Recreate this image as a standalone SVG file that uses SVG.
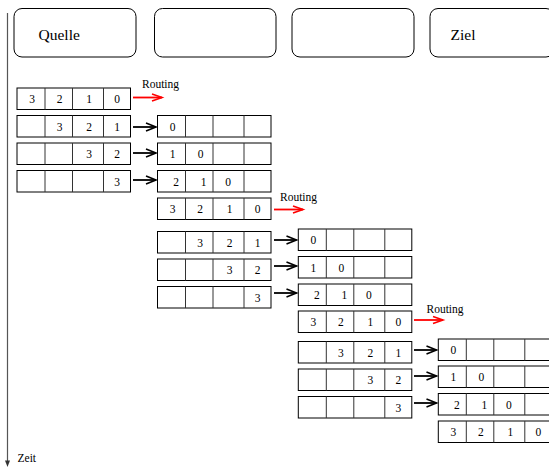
<svg xmlns="http://www.w3.org/2000/svg" xmlns:xlink="http://www.w3.org/1999/xlink" width="549" height="468" viewBox="0 0 549 468">
  <style>
    .node { fill: none; stroke: #000; stroke-width: 1; }
    .cell { fill: #fff; stroke: #000; stroke-width: 1; }
    .div { stroke: #333; stroke-width: 1; }
    text { font-family: 'Liberation Serif', 'Times New Roman', Times, 'DejaVu Serif', serif; fill: #000; }
    .lbl { font-size: 15.5px; }
    .num { font-size: 11.5px; text-anchor: middle; }
    .small { font-size: 11.5px; }
    .fwd { fill: none; stroke: #000; stroke-width: 1.8; marker-end: url(#headBlack); }
    .route { fill: none; stroke: #f00; stroke-width: 1.8; marker-end: url(#headRed); }
    .axis { fill: none; stroke: #555; stroke-width: 1.2; }
  </style>
  <defs>
    <marker id="headBlack" markerUnits="userSpaceOnUse" markerWidth="14" markerHeight="12" refX="11" refY="6" orient="auto">
      <path d="M1,2 L11,6 L1,10" fill="none" stroke="#000" stroke-width="1.6"/>
    </marker>
    <marker id="headRed" markerUnits="userSpaceOnUse" markerWidth="14" markerHeight="12" refX="11" refY="6" orient="auto">
      <path d="M1,2.5 L11,6 L1,9.5" fill="none" stroke="#f00" stroke-width="1.6"/>
    </marker>
    <!-- four-slot packet buffer -->
    <g id="slots">
      <rect class="cell" x="0" y="0" width="113.5" height="21.5"/>
      <line class="div" x1="28" y1="0" x2="28" y2="21.5"/>
      <line class="div" x1="55.5" y1="0" x2="55.5" y2="21.5"/>
      <line class="div" x1="86.5" y1="0" x2="86.5" y2="21.5"/>
    </g>
  </defs>

  <rect width="549" height="468" fill="#fff"/>

  <!-- time axis -->
  <g id="time-axis">
    <line class="axis" x1="7.5" y1="13" x2="7.5" y2="463"/>
    <path d="M5,460.5 L7.5,467 L10,460.5 Z" fill="#333"/>
    <text class="small" x="17.5" y="461.5">Zeit</text>
  </g>

  <!-- stations -->
  <g id="station-quelle">
    <rect class="node" x="14" y="8.5" width="122" height="48.5" rx="8"/>
    <text class="lbl" x="38.5" y="39.5">Quelle</text>
  </g>
  <g id="station-2">
    <rect class="node" x="154.5" y="8.5" width="121.5" height="48.5" rx="8"/>
  </g>
  <g id="station-3">
    <rect class="node" x="292" y="8.5" width="122" height="48.5" rx="8"/>
  </g>
  <g id="station-ziel">
    <rect class="node" x="430" y="8.5" width="124" height="48.5" rx="8"/>
    <text class="lbl" x="450.5" y="39.5">Ziel</text>
  </g>

  <!-- station 1 buffers -->
  <g id="s1-row1" transform="translate(17,88)">
    <use xlink:href="#slots"/>
    <text class="num" x="15" y="15">3</text><text class="num" x="42.5" y="15">2</text><text class="num" x="72" y="15">1</text><text class="num" x="100" y="15">0</text>
  </g>
  <g id="s1-row2" transform="translate(17,115.5)">
    <use xlink:href="#slots"/>
    <text class="num" x="42.5" y="15">3</text><text class="num" x="72" y="15">2</text><text class="num" x="100" y="15">1</text>
  </g>
  <g id="s1-row3" transform="translate(17,143)">
    <use xlink:href="#slots"/>
    <text class="num" x="72" y="15">3</text><text class="num" x="100" y="15">2</text>
  </g>
  <g id="s1-row4" transform="translate(17,170.5)">
    <use xlink:href="#slots"/>
    <text class="num" x="100" y="15">3</text>
  </g>

  <!-- station 2 buffers: received -->
  <g id="s2-in1" transform="translate(157.5,115.5)">
    <use xlink:href="#slots"/>
    <text class="num" x="15" y="15">0</text>
  </g>
  <g id="s2-in2" transform="translate(157.5,143)">
    <use xlink:href="#slots"/>
    <text class="num" x="15" y="15">1</text><text class="num" x="43" y="15">0</text>
  </g>
  <g id="s2-in3" transform="translate(157.5,170.5)">
    <use xlink:href="#slots"/>
    <text class="num" x="18.5" y="15">2</text><text class="num" x="46" y="15">1</text><text class="num" x="70.5" y="15">0</text>
  </g>
  <g id="s2-in4" transform="translate(157.5,198)">
    <use xlink:href="#slots"/>
    <text class="num" x="15" y="15">3</text><text class="num" x="42.5" y="15">2</text><text class="num" x="72" y="15">1</text><text class="num" x="100" y="15">0</text>
  </g>
  <!-- station 2 buffers: forwarding -->
  <g id="s2-out1" transform="translate(157.5,231.5)">
    <use xlink:href="#slots"/>
    <text class="num" x="42.5" y="15">3</text><text class="num" x="72" y="15">2</text><text class="num" x="100" y="15">1</text>
  </g>
  <g id="s2-out2" transform="translate(157.5,259)">
    <use xlink:href="#slots"/>
    <text class="num" x="72" y="15">3</text><text class="num" x="100" y="15">2</text>
  </g>
  <g id="s2-out3" transform="translate(157.5,286.5)">
    <use xlink:href="#slots"/>
    <text class="num" x="100" y="15">3</text>
  </g>

  <!-- station 3 buffers: received -->
  <g id="s3-in1" transform="translate(298.3,229)">
    <use xlink:href="#slots"/>
    <text class="num" x="15" y="15">0</text>
  </g>
  <g id="s3-in2" transform="translate(298.3,256.5)">
    <use xlink:href="#slots"/>
    <text class="num" x="15" y="15">1</text><text class="num" x="43" y="15">0</text>
  </g>
  <g id="s3-in3" transform="translate(298.3,284)">
    <use xlink:href="#slots"/>
    <text class="num" x="18.5" y="15">2</text><text class="num" x="46" y="15">1</text><text class="num" x="70.5" y="15">0</text>
  </g>
  <g id="s3-in4" transform="translate(298.3,311)">
    <use xlink:href="#slots"/>
    <text class="num" x="15" y="15">3</text><text class="num" x="42.5" y="15">2</text><text class="num" x="72" y="15">1</text><text class="num" x="100" y="15">0</text>
  </g>
  <!-- station 3 buffers: forwarding -->
  <g id="s3-out1" transform="translate(298.3,341.5)">
    <use xlink:href="#slots"/>
    <text class="num" x="42.5" y="15">3</text><text class="num" x="72" y="15">2</text><text class="num" x="100" y="15">1</text>
  </g>
  <g id="s3-out2" transform="translate(298.3,369)">
    <use xlink:href="#slots"/>
    <text class="num" x="72" y="15">3</text><text class="num" x="100" y="15">2</text>
  </g>
  <g id="s3-out3" transform="translate(298.3,396.5)">
    <use xlink:href="#slots"/>
    <text class="num" x="100" y="15">3</text>
  </g>

  <!-- destination buffers -->
  <g id="s4-in1" transform="translate(438.3,339)">
    <use xlink:href="#slots"/>
    <text class="num" x="15" y="15">0</text>
  </g>
  <g id="s4-in2" transform="translate(438.3,366)">
    <use xlink:href="#slots"/>
    <text class="num" x="15" y="15">1</text><text class="num" x="43" y="15">0</text>
  </g>
  <g id="s4-in3" transform="translate(438.3,393.5)">
    <use xlink:href="#slots"/>
    <text class="num" x="18.5" y="15">2</text><text class="num" x="46" y="15">1</text><text class="num" x="70.5" y="15">0</text>
  </g>
  <g id="s4-in4" transform="translate(438.3,421)">
    <use xlink:href="#slots"/>
    <text class="num" x="15" y="15">3</text><text class="num" x="42.5" y="15">2</text><text class="num" x="72" y="15">1</text><text class="num" x="100" y="15">0</text>
  </g>

  <!-- connectors -->
  <g id="connectors">
    <line class="route" x1="133" y1="97.5" x2="162" y2="97.5"/>
    <text class="small" x="142" y="88">Routing</text>
    <line class="fwd" x1="133" y1="127" x2="156" y2="127"/>
    <line class="fwd" x1="133" y1="153" x2="156" y2="153"/>
    <line class="fwd" x1="133" y1="180" x2="156" y2="180"/>

    <line class="route" x1="274" y1="209.5" x2="303" y2="209.5"/>
    <text class="small" x="280" y="200.5">Routing</text>
    <line class="fwd" x1="274" y1="240" x2="296.5" y2="240"/>
    <line class="fwd" x1="274" y1="266" x2="296.5" y2="266"/>
    <line class="fwd" x1="274" y1="293" x2="296.5" y2="293"/>

    <line class="route" x1="414" y1="320" x2="443" y2="320"/>
    <text class="small" x="426.5" y="312.5">Routing</text>
    <line class="fwd" x1="414" y1="350" x2="436.5" y2="350"/>
    <line class="fwd" x1="414" y1="376" x2="436.5" y2="376"/>
    <line class="fwd" x1="414" y1="403" x2="436.5" y2="403"/>
  </g>
</svg>
